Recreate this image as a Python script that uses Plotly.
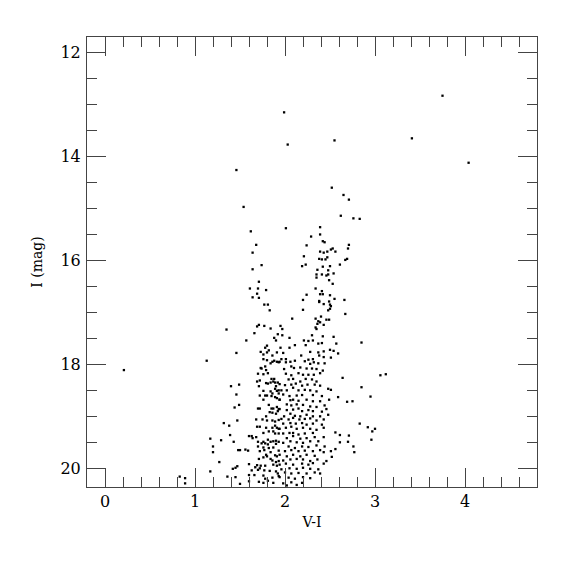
import plotly.graph_objects as go

# Colour-magnitude diagram: (V-I, I) pairs
bright_stars = [(1.99, 13.15), (3.75, 12.83), (3.41, 13.65), (4.04, 14.12)]

upper_branch = [
    (2.03, 13.77), (2.55, 13.69), (1.46, 14.26), (2.52, 14.60), (2.65, 14.74), (2.71, 14.83),
    (1.54, 14.97), (2.62, 15.14), (2.76, 15.19), (2.83, 15.20), (1.62, 15.44), (2.01, 15.38),
    (2.39, 15.36), (2.39, 15.50), (2.29, 15.54), (2.42, 15.63), (2.44, 15.65), (1.68, 15.70),
    (2.24, 15.71), (2.71, 15.70), (2.70, 15.77), (2.53, 15.77), (2.51, 15.79), (2.56, 15.83),
    (2.47, 15.83), (2.43, 15.85), (2.39, 15.83), (1.64, 15.85), (2.21, 15.92), (2.38, 15.97),
    (2.41, 15.98), (2.45, 15.98), (2.47, 15.94), (2.69, 15.97), (2.67, 15.99), (1.64, 16.17),
    (1.74, 16.09), (2.19, 16.11), (2.23, 16.08), (2.42, 16.12), (2.50, 16.11), (2.61, 16.08),
    (2.36, 16.18), (2.48, 16.19), (2.35, 16.27), (2.41, 16.27), (2.46, 16.29), (2.48, 16.27),
    (2.54, 16.25), (2.35, 16.33), (2.49, 16.38), (1.71, 16.41), (2.53, 16.45), (1.61, 16.54),
    (1.70, 16.54), (2.34, 16.54), (2.41, 16.59), (1.79, 16.57), (1.69, 16.64), (2.24, 16.66),
    (2.39, 16.65), (2.42, 16.65), (2.50, 16.67), (1.64, 16.71), (1.71, 16.72), (2.55, 16.74),
    (2.66, 16.76), (2.20, 16.76), (2.38, 16.78), (2.38, 16.80), (2.49, 16.79), (2.43, 16.84),
    (2.50, 16.85), (2.51, 16.88), (1.77, 16.85), (1.81, 16.85), (2.50, 16.93), (1.83, 16.96),
    (2.20, 16.95), (2.48, 16.96), (2.67, 17.03), (2.08, 17.12), (2.34, 17.12), (2.40, 17.08),
    (2.37, 17.17), (2.39, 17.19), (2.46, 17.14), (2.49, 17.14), (2.36, 17.22), (2.43, 17.24),
    (1.95, 17.26), (1.97, 17.32), (2.34, 17.29), (2.35, 17.32),
]

blue_side = [
    (1.69, 17.27), (1.71, 17.24), (1.77, 17.26), (1.84, 17.31), (1.66, 17.40), (1.35, 17.33),
    (1.92, 17.42), (1.88, 17.49), (1.90, 17.54), (1.57, 17.54), (1.80, 17.64), (1.78, 17.68),
    (1.82, 17.73), (1.73, 17.76), (1.80, 17.77), (1.91, 17.77), (1.46, 17.78), (1.76, 17.81),
    (1.86, 17.83), (1.13, 17.93), (1.76, 17.90), (1.80, 17.92), (1.88, 17.93), (1.91, 17.95),
    (1.84, 17.98), (1.86, 17.95), (1.93, 17.96), (1.78, 18.04), (1.73, 18.07), (1.74, 18.08),
    (1.79, 18.11), (1.70, 18.18), (1.76, 18.19), (1.81, 18.17), (1.85, 18.28), (1.88, 18.28),
    (1.72, 18.31), (1.69, 18.33), (1.79, 18.36), (1.81, 18.37), (1.84, 18.35), (1.87, 18.33),
    (1.89, 18.35), (1.92, 18.35), (1.49, 18.39), (1.40, 18.42), (1.71, 18.42), (1.90, 18.42),
    (1.89, 18.47), (1.76, 18.51), (1.84, 18.52), (1.91, 18.51), (1.93, 18.50), (1.86, 18.56),
    (1.93, 18.56), (1.46, 18.58), (1.72, 18.60), (1.78, 18.60), (1.80, 18.60), (1.85, 18.61),
    (1.89, 18.63), (1.91, 18.65), (1.76, 18.68), (1.94, 18.68), (1.49, 18.78), (1.82, 18.78),
    (1.44, 18.83), (1.70, 18.85), (1.72, 18.85), (1.85, 18.85), (1.87, 18.85), (1.91, 18.82),
    (1.93, 18.86), (1.92, 18.90), (1.83, 18.92), (1.86, 18.93), (1.90, 18.95), (1.79, 19.00),
    (1.47, 19.08), (1.68, 19.06), (1.75, 19.06), (1.80, 19.08), (1.86, 19.08), (1.93, 19.07),
    (1.89, 19.10), (1.32, 19.13), (1.38, 19.18), (1.69, 19.20), (1.72, 19.20), (1.79, 19.22),
    (1.89, 19.18), (1.86, 19.22), (1.91, 19.22), (1.93, 19.24), (1.82, 19.29), (1.87, 19.29),
    (1.76, 19.32), (1.89, 19.33), (1.93, 19.33), (1.39, 19.36), (1.60, 19.38), (1.63, 19.38),
    (1.68, 19.40), (1.17, 19.43), (1.64, 19.42), (1.81, 19.45), (1.29, 19.46), (1.43, 19.49),
    (1.70, 19.49), (1.76, 19.49), (1.84, 19.49), (1.87, 19.48), (1.90, 19.47), (1.93, 19.49),
    (1.74, 19.52), (1.78, 19.52), (1.81, 19.54), (1.90, 19.53), (1.20, 19.58), (1.70, 19.58),
    (1.76, 19.60), (1.82, 19.61), (1.87, 19.60), (1.48, 19.65), (1.50, 19.65), (1.56, 19.64),
    (1.59, 19.66), (1.20, 19.69), (1.72, 19.67), (1.77, 19.65), (1.84, 19.69), (1.93, 19.66),
    (1.79, 19.74), (1.80, 19.77), (1.89, 19.75), (1.91, 19.77), (1.76, 19.79), (1.71, 19.82),
    (1.84, 19.82), (1.86, 19.85), (1.90, 19.88), (1.93, 19.86), (1.27, 19.88), (1.69, 19.94),
    (1.73, 19.95), (1.78, 19.95), (1.87, 19.93), (1.91, 19.95), (1.47, 19.96), (1.45, 19.99),
    (1.42, 20.01), (1.60, 19.92), (1.67, 19.98), (1.72, 20.00), (1.17, 20.06), (1.63, 20.04),
    (1.70, 20.03), (1.77, 20.04), (1.83, 20.05), (1.90, 20.06), (1.92, 20.10), (1.36, 20.16),
    (1.45, 20.17), (1.60, 20.13), (1.66, 20.13), (1.76, 20.14), (1.78, 20.20), (1.86, 20.18),
    (1.93, 20.15), (0.83, 20.16), (0.89, 20.19), (0.89, 20.29), (1.50, 20.30), (1.60, 20.25),
    (1.71, 20.26), (1.76, 20.28), (1.81, 20.24), (1.87, 20.28),
]

red_side = [
    (1.97, 17.44), (2.30, 17.44), (2.42, 17.46), (2.54, 17.47), (2.05, 17.49), (1.95, 17.68),
    (2.05, 17.68), (2.11, 17.63), (2.21, 17.54), (2.26, 17.55), (2.31, 17.54), (2.37, 17.60),
    (2.41, 17.59), (2.57, 17.60), (2.23, 17.63), (2.43, 17.75), (2.50, 17.72), (2.59, 17.79),
    (2.54, 17.74), (1.98, 17.78), (2.28, 17.76), (2.37, 17.77), (1.96, 17.90), (2.01, 17.90),
    (2.18, 17.83), (2.22, 17.94), (2.26, 17.91), (2.31, 17.90), (2.38, 17.83), (2.43, 17.86),
    (2.51, 17.87), (1.94, 17.95), (2.01, 17.96), (2.06, 17.95), (2.11, 17.93), (2.28, 17.99),
    (2.32, 17.96), (2.37, 17.98), (2.44, 17.98), (2.07, 18.04), (2.10, 18.07), (2.17, 18.06),
    (2.24, 18.08), (2.30, 18.08), (2.35, 18.09), (2.42, 18.12), (1.99, 18.09), (2.01, 18.18),
    (2.07, 18.21), (2.15, 18.17), (2.20, 18.20), (2.26, 18.20), (2.32, 18.20), (2.39, 18.17),
    (2.04, 18.29), (2.09, 18.28), (2.17, 18.33), (2.23, 18.28), (2.30, 18.29), (2.35, 18.33),
    (2.64, 18.26), (1.94, 18.38), (2.00, 18.40), (2.07, 18.39), (2.12, 18.37), (2.19, 18.41),
    (2.25, 18.39), (2.33, 18.39), (2.39, 18.41), (2.48, 18.47), (2.51, 18.49), (1.96, 18.50),
    (2.02, 18.50), (2.09, 18.45), (2.15, 18.50), (2.22, 18.49), (2.28, 18.50), (2.35, 18.52),
    (1.98, 18.58), (2.05, 18.61), (2.13, 18.60), (2.19, 18.59), (2.31, 18.59), (2.41, 18.61),
    (2.59, 18.63), (1.94, 18.68), (2.06, 18.69), (2.09, 18.68), (2.15, 18.70), (2.24, 18.68),
    (2.31, 18.71), (2.39, 18.71), (2.49, 18.68), (2.69, 18.72), (2.75, 18.71), (2.02, 18.77),
    (2.07, 18.79), (2.13, 18.77), (2.20, 18.78), (2.28, 18.81), (2.35, 18.82), (2.44, 18.79),
    (1.94, 18.86), (2.02, 18.88), (2.09, 18.87), (2.15, 18.85), (2.19, 18.90), (2.26, 18.88),
    (2.31, 18.90), (2.41, 18.91), (2.46, 18.86), (1.99, 19.00), (2.06, 18.95), (2.11, 18.99),
    (2.17, 19.00), (2.24, 18.97), (2.31, 19.00), (2.39, 19.00), (2.48, 18.97), (1.96, 19.05),
    (2.04, 19.06), (2.09, 19.03), (2.16, 19.06), (2.22, 19.05), (2.28, 19.04), (2.35, 19.08),
    (2.43, 19.06), (1.98, 19.14), (2.06, 19.13), (2.12, 19.14), (2.19, 19.13), (2.24, 19.16),
    (2.31, 19.14), (2.41, 19.16), (1.94, 19.24), (2.01, 19.22), (2.07, 19.20), (2.13, 19.24),
    (2.20, 19.22), (2.28, 19.24), (2.35, 19.26), (2.43, 19.22), (1.98, 19.33), (2.05, 19.32),
    (2.09, 19.32), (2.15, 19.35), (2.22, 19.33), (2.31, 19.32), (2.56, 19.31), (2.61, 19.36),
    (2.71, 19.37), (2.02, 19.42), (2.09, 19.38), (2.17, 19.43), (2.24, 19.42), (2.33, 19.40),
    (2.43, 19.40), (1.98, 19.51), (2.06, 19.48), (2.13, 19.50), (2.20, 19.51), (2.28, 19.48),
    (2.37, 19.48), (2.61, 19.50), (2.70, 19.49), (2.76, 19.58), (2.04, 19.58), (2.11, 19.61),
    (2.19, 19.58), (2.26, 19.59), (2.35, 19.56), (2.44, 19.58), (2.00, 19.67), (2.07, 19.65),
    (2.15, 19.67), (2.22, 19.66), (2.31, 19.67), (2.39, 19.65), (2.51, 19.67), (2.77, 19.69),
    (2.56, 19.63), (2.43, 19.69), (1.94, 19.74), (2.02, 19.77), (2.09, 19.74), (2.17, 19.77),
    (2.24, 19.74), (2.33, 19.76), (2.52, 19.78), (1.98, 19.85), (2.06, 19.83), (2.13, 19.82),
    (2.20, 19.83), (2.28, 19.86), (2.36, 19.83), (2.46, 19.86), (1.94, 19.93), (2.01, 19.91),
    (2.09, 19.93), (2.19, 19.91), (2.26, 19.93), (2.31, 19.90), (2.43, 19.91), (1.96, 20.02),
    (2.05, 20.00), (2.13, 20.01), (2.20, 19.99), (2.28, 20.01), (2.37, 20.02), (2.00, 20.08),
    (2.07, 20.10), (2.15, 20.09), (2.24, 20.10), (2.33, 20.08), (2.39, 20.10), (1.94, 20.17),
    (2.04, 20.18), (2.11, 20.20), (2.20, 20.17), (2.28, 20.19), (1.98, 20.29), (2.07, 20.27),
    (2.19, 20.28), (2.02, 20.33), (2.13, 20.32),
]

field_stars = [
    (0.21, 18.11), (2.85, 17.58), (3.06, 18.21), (3.12, 18.19), (2.85, 18.44), (2.95, 18.62),
    (2.83, 19.14), (2.92, 19.21), (2.97, 19.29), (3.00, 19.24), (2.96, 19.45),
]

x_ticks = [0, 1, 2, 3, 4]
y_ticks = [12, 14, 16, 18, 20]

all_stars = bright_stars + upper_branch + blue_side + red_side + field_stars
vi = [p[0] for p in all_stars]
imag = [p[1] for p in all_stars]

fig = go.Figure(go.Scatter(
    x=vi, y=imag, mode="markers",
    marker=dict(symbol="square", size=2.3, color="black", line=dict(width=0)),
    hoverinfo="x+y",
))

serif = "DejaVu Serif"
axis_common = dict(
    showgrid=False, zeroline=False, showline=True, linecolor="#444", linewidth=1,
    mirror="allticks", ticks="inside", ticklen=19, tickwidth=1, tickcolor="#444",
    tickfont=dict(family=serif, size=16, color="black"),
)

fig.update_xaxes(
    range=[-0.2, 4.8], tickvals=x_ticks, ticktext=[str(v) for v in x_ticks],
    minor=dict(dtick=0.2, tick0=0, ticks="inside", ticklen=10, tickcolor="#444", tickwidth=1),
    title=dict(text="V-I", font=dict(family=serif, size=14, color="black"), standoff=6),
    ticklabelstandoff=0,
    **axis_common,
)
fig.update_yaxes(
    range=[20.36, 11.7], tickvals=y_ticks, ticktext=[str(v) for v in y_ticks],
    minor=dict(dtick=0.5, tick0=0, ticks="inside", ticklen=10, tickcolor="#444", tickwidth=1),
    title=dict(text="I (mag)", font=dict(family=serif, size=14, color="black"), standoff=14),
    ticklabelstandoff=2,
    **axis_common,
)

# the page body adds an 8px offset, so the figure is shrunk by that amount
fig.update_layout(
    width=567, height=567,
    margin=dict(l=79, r=38, t=29, b=88),
    plot_bgcolor="white", paper_bgcolor="white",
    showlegend=False,
)

fig.write_html("out.html")
